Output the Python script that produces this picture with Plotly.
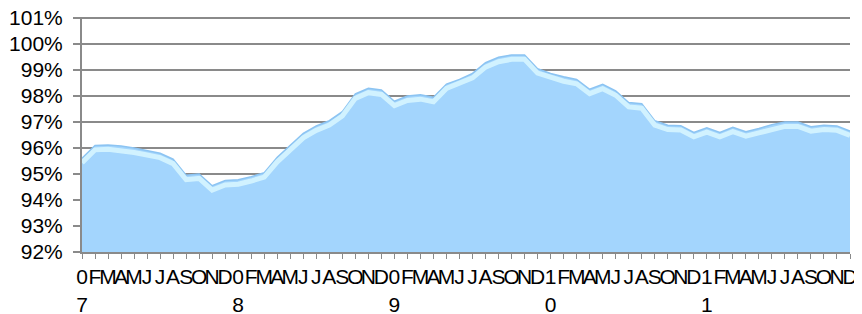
import plotly.graph_objects as go

# Monthly values, Jan 2007 .. Dec 2011 (percent)
months = ["0<br>7", "F", "M", "A", "M", "J", "J", "A", "S", "O", "N", "D",
          "0<br>8", "F", "M", "A", "M", "J", "J", "A", "S", "O", "N", "D",
          "0<br>9", "F", "M", "A", "M", "J", "J", "A", "S", "O", "N", "D",
          "1<br>0", "F", "M", "A", "M", "J", "J", "A", "S", "O", "N", "D",
          "1<br>1", "F", "M", "A", "M", "J", "J", "A", "S", "O", "N", "D"]
values = [95.6, 96.1, 96.12, 96.08, 96.0, 95.9, 95.8, 95.57, 94.95, 95.0, 94.55, 94.75,
          94.78, 94.9, 95.05, 95.64, 96.1, 96.56, 96.85, 97.05, 97.4, 98.08, 98.3, 98.23,
          97.8, 98.0, 98.05, 97.95, 98.46, 98.64, 98.87, 99.28, 99.49, 99.58, 99.58, 99.05,
          98.87, 98.74, 98.64, 98.26, 98.45, 98.2, 97.75, 97.7, 97.05, 96.88, 96.86, 96.6,
          96.78, 96.6, 96.8, 96.63, 96.75, 96.9, 97.0, 97.0, 96.82, 96.88, 96.85, 96.65]
y_ticks = list(range(92, 102))

x = list(range(len(values)))
highlight = [v - 0.17 for v in values]

fig = go.Figure()
fig.add_trace(go.Scatter(x=x, y=values, mode="lines", fill="tozeroy",
                         fillcolor="#A3D5FD", line=dict(color="#8CC4F2", width=1.5),
                         hoverinfo="skip", showlegend=False))
fig.add_trace(go.Scatter(x=x, y=highlight, mode="lines",
                         line=dict(color="rgba(214,245,255,0.9)", width=5),
                         hoverinfo="skip", showlegend=False))

font = dict(family="Liberation Sans Narrow, Arial Narrow, Liberation Sans, Arial, sans-serif",
            size=21, color="#000000")

# page body has an 8px default margin, so the figure is offset by 8px
fig.update_layout(
    width=854, height=306,
    margin=dict(l=74, r=12, t=9, b=62, autoexpand=False),
    paper_bgcolor="white", plot_bgcolor="white",
    xaxis=dict(range=[0, len(values) - 1], tickmode="array", tickvals=x, ticktext=months,
               tickangle=0, showgrid=False, zeroline=False, automargin=False,
               ticklabeloverflow="allow",
               showline=True, linecolor="#8a8a8a", linewidth=2,
               ticks="outside", ticklen=5, tickcolor="#8a8a8a", tickwidth=1,
               tickfont=font),
    yaxis=dict(range=[92, 101.04], tickmode="array", tickvals=y_ticks,
               ticktext=[f"{t}%" for t in y_ticks], automargin=False,
               ticklabeloverflow="allow",
               showgrid=True, gridcolor="#8a8a8a", gridwidth=2, zeroline=False,
               showline=True, linecolor="#8a8a8a", linewidth=2,
               ticks="outside", ticklen=7, tickcolor="#8a8a8a", tickwidth=2,
               tickfont=dict(family="Liberation Sans, Arial, sans-serif", size=21, color="#000000"),
               ticklabelstandoff=6),
)

fig.write_html("out.html")
